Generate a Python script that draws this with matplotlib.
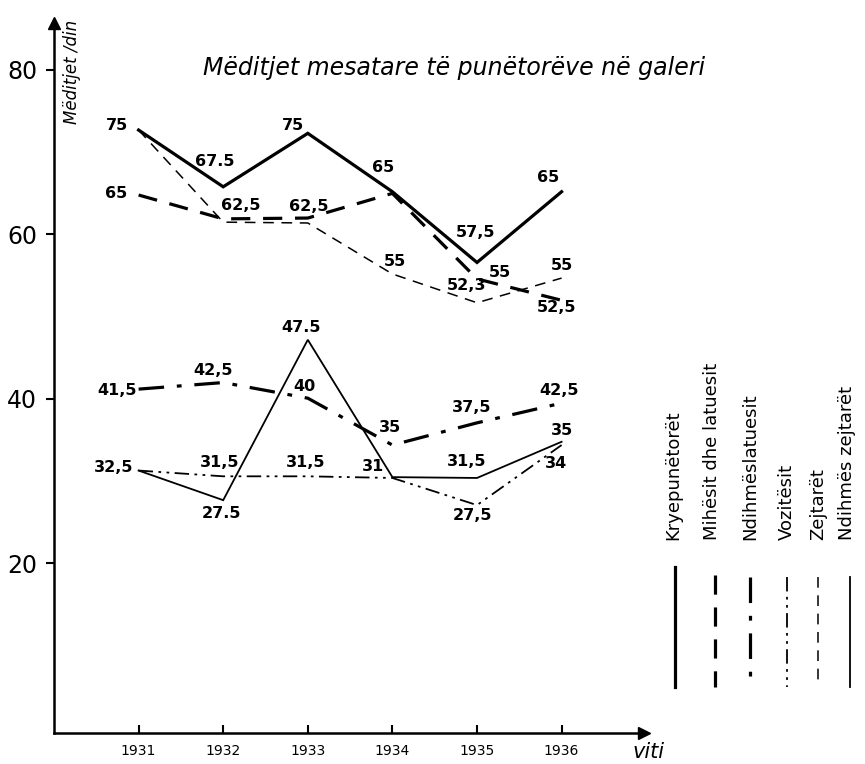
import matplotlib
matplotlib.use("Agg")
import matplotlib.pyplot as plt
from matplotlib.lines import Line2D

# data (positions of the hand-drawn lines on the axis)
years = [1931, 1932, 1933, 1934, 1935, 1936]

kryepunetoret = [72.7, 65.8, 72.3, 65.2, 56.6, 65.2]
mihesit = [64.8, 61.9, 62.0, 65.0, 54.6, 52.0]
ndihmeslatuesit = [41.2, 42.0, 40.1, 34.4, 37.1, 39.5]
vozitesit = [31.3, 30.6, 30.6, 30.4, 27.1, 34.4]
zejtaret = [72.7, 61.5, 61.4, 55.2, 51.7, 54.7]
ndihmes_zejtaret = [31.3, 27.7, 47.2, 30.5, 30.4, 34.8]

# numbers written next to the points
lab_krye = ["75", "67.5", "75", "65", "57,5", "65"]
lab_mih = ["65", "62,5", "62,5", "", "55", "52,5"]
lab_ndl = ["41,5", "42,5", "40", "35", "37,5", "42,5"]
lab_voz = ["32,5", "31,5", "31,5", "31", "27,5", "34"]
lab_zej = ["", "", "", "55", "52,3", "55"]
lab_ndz = ["", "27.5", "47.5", "", "31,5", "35"]

legend_names = ["Kryepunëtorët", "Mihësit dhe latuesit", "Ndihmëslatuesit",
                "Vozitësit", "Zejtarët", "Ndihmës zejtarët"]

# label offsets in pixels (dx, dy)
off_krye = [(-22, 5), (-8, 25), (-15, 8), (-9, 24), (-1, 30), (-13, 14)]
off_mih = [(-22, 2), (18, 13), (1, 12), (0, 0), (23, 6), (-5, -7)]
off_ndl = [(-22, -1), (-10, 12), (-3, 12), (-2, 18), (-5, 15), (-3, 13)]
off_voz = [(-25, 3), (-4, 14), (-2, 14), (-19, 11), (-5, -10), (-6, -18)]
off_zej = [(0, 0), (0, 0), (0, 0), (3, 12), (-10, 17), (0, 13)]
off_ndz = [(0, 0), (-2, -13), (-7, 12), (0, 0), (-10, 16), (0, 11)]

styles = [
    dict(color="black", lw=2.3, ls="-"),
    dict(color="black", lw=2.3, ls=(0, (6, 4))),
    dict(color="black", lw=2.3, ls=(0, (8, 4, 1.5, 4))),
    dict(color="black", lw=1.3, ls=(0, (8, 3, 1.5, 3, 1.5, 3))),
    dict(color="black", lw=1.1, ls=(0, (7, 5))),
    dict(color="black", lw=1.3, ls="-"),
]

fig = plt.figure(figsize=(8.65, 7.64), dpi=100)
ax = fig.add_axes([54 / 865, 31 / 764, 590 / 865, 710 / 764])

series = [kryepunetoret, mihesit, ndihmeslatuesit, vozitesit, zejtaret, ndihmes_zejtaret]
labels = [lab_krye, lab_mih, lab_ndl, lab_voz, lab_zej, lab_ndz]
offsets = [off_krye, off_mih, off_ndl, off_voz, off_zej, off_ndz]

for vals, st in zip(series, styles):
    ax.plot(years, vals, solid_joinstyle="miter", dash_capstyle="butt", **st)

for vals, labs, offs in zip(series, labels, offsets):
    for x, y, t, o in zip(years, vals, labs, offs):
        if t:
            ax.annotate(t, (x, y), xytext=o, textcoords="offset pixels",
                        ha="center", va="center", fontsize=11.5, fontweight="bold")

ax.set_xlim(1930, 1930 + 590 / 84.6)
ax.set_ylim(80 - 663 / 8.225, 80 + 47 / 8.225)

for s in ["top", "right"]:
    ax.spines[s].set_visible(False)
for s in ["left", "bottom"]:
    ax.spines[s].set_linewidth(1.8)

ax.set_yticks([20, 40, 60, 80])
ax.tick_params(axis="y", direction="out", length=6, width=1.5, labelsize=17, pad=6)
ax.set_xticks(years)
ax.set_xticklabels([str(y) for y in years])
ax.tick_params(axis="x", direction="in", length=6, width=1.5, labelsize=10, pad=8)

# arrow heads on the axes
ax.plot([1], [0], marker=">", color="black", ms=8, transform=ax.transAxes, clip_on=False)
ax.plot([0], [1], marker="^", color="black", ms=8, transform=ax.transAxes, clip_on=False)

# overlay in pixel coordinates for the free texts and the legend
ov = fig.add_axes([0, 0, 1, 1])
ov.set_xlim(0, 865)
ov.set_ylim(764, 0)
ov.axis("off")
ov.patch.set_alpha(0)

ov.text(454, 68, "Mëditjet mesatare të punëtorëve në galeri", ha="center", va="center",
        fontsize=17, style="italic")
ov.text(72, 124, "Mëditjet /din", rotation=90, rotation_mode="anchor",
        ha="left", va="center", fontsize=12, style="italic")
ov.text(632, 752, "viti", ha="left", va="center", fontsize=15, style="italic")

text_x = [673, 712, 750, 787, 818, 847]
line_x = [675, 715, 750, 787, 818, 850]
line_top = [567, 575, 577, 577, 577, 577]
for name, tx, lx, lt, st in zip(legend_names, text_x, line_x, line_top, styles):
    ov.text(tx, 540, name, rotation=90, rotation_mode="anchor",
            ha="left", va="center", fontsize=13)
    ov.add_line(Line2D([lx, lx], [lt, 687], dash_capstyle="butt", **st))

fig.savefig("out.png", dpi=100)
